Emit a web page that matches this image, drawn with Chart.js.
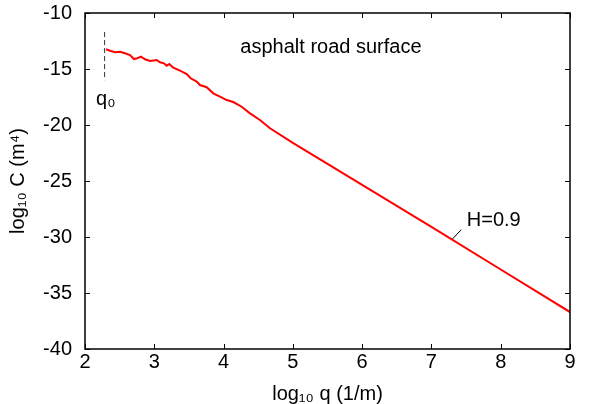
<!DOCTYPE html>
<html><head><meta charset="utf-8">
<script src="https://cdn.jsdelivr.net/npm/chart.js@4.4.0/dist/chart.umd.min.js"></script>
<style>html,body{margin:0;padding:0;background:#fff}#wrap{width:598px;height:404px}</style>
</head><body><div id="wrap"><canvas id="c" width="598" height="404"></canvas></div>
<script>
// Measured power spectrum (log10 q vs log10 C)
const logQ = [2.303,2.361,2.433,2.505,2.577,2.649,2.707,2.755,2.808,2.866,2.938,3.035,3.082,3.140,3.179,3.216,3.274,3.371,3.468,3.525,3.612,3.659,3.756,3.851,3.948,4.045,4.140,4.261,4.381,4.525,4.670,5.0,6.0,7.0,8.0,9.0];
const logC = [-13.24,-13.37,-13.51,-13.46,-13.60,-13.75,-14.11,-14.04,-13.90,-14.13,-14.29,-14.20,-14.40,-14.49,-14.71,-14.55,-14.88,-15.15,-15.45,-15.83,-16.13,-16.43,-16.63,-17.17,-17.47,-17.77,-17.95,-18.37,-18.96,-19.55,-20.29,-21.6,-25.35,-29.1,-32.9,-36.7];
// q0 marker (dashed vertical line)
const q0X = [2.283, 2.283];
const q0Y = [-11.7, -16.0];
// H=0.9 leader line
const hX = [7.30, 7.43];
const hY = [-30.2, -29.35];
// ticks
const xTicks = [2,3,4,5,6,7,8,9];
const yTicks = [-40,-35,-30,-25,-20,-15,-10];
// texts
const plotTitle = 'asphalt road surface';
const q0Label = 'q\u2080';
const hLabel = 'H=0.9';
const xTitle = 'log\u2081\u2080 q (1/m)';
const yTitle = 'log\u2081\u2080 C (m\u2074)';

const FONT = 'Liberation Sans, Arial, sans-serif';

const pts = (xs, ys) => xs.map((x, i) => ({x, y: ys[i]}));

const framePlugin = {
  id: 'frame',
  afterDatasetsDraw(chart) {
    const {ctx, chartArea: a, scales: {x, y}} = chart;
    ctx.save();
    ctx.strokeStyle = '#000';
    ctx.lineWidth = 1.5;
    ctx.strokeRect(a.left, a.top, a.right - a.left, a.bottom - a.top);
    ctx.lineWidth = 1;
    ctx.beginPath();
    const L = 5;
    xTicks.forEach(v => {
      const px = Math.round(x.getPixelForValue(v)) + 0.5;
      ctx.moveTo(px, a.bottom); ctx.lineTo(px, a.bottom - L);
      ctx.moveTo(px, a.top); ctx.lineTo(px, a.top + L);
    });
    yTicks.forEach(v => {
      const py = Math.round(y.getPixelForValue(v)) + 0.5;
      ctx.moveTo(a.left, py); ctx.lineTo(a.left + L, py);
      ctx.moveTo(a.right, py); ctx.lineTo(a.right - L, py);
    });
    ctx.stroke();
    ctx.restore();
  },
  afterDraw(chart) {
    const {ctx, scales: {x, y}} = chart;
    ctx.save();
    ctx.fillStyle = '#000';
    ctx.font = '20px ' + FONT;
    ctx.textBaseline = 'middle';
    ctx.textAlign = 'center';
    ctx.fillText(plotTitle, x.getPixelForValue(5.55), y.getPixelForValue(-13.05));
    ctx.fillText(q0Label, x.getPixelForValue(2.30), y.getPixelForValue(-17.7));
    ctx.textAlign = 'left';
    ctx.fillText(hLabel, x.getPixelForValue(7.51), y.getPixelForValue(-28.5));
    ctx.restore();
  }
};

new Chart(document.getElementById('c'), {
  type: 'scatter',
  data: {
    datasets: [
      {data: pts(logQ, logC), showLine: true, borderColor: '#ff0000', borderWidth: 2, pointRadius: 0, tension: 0},
      {data: pts(q0X, q0Y), showLine: true, borderColor: '#333', borderWidth: 1, borderDash: [5, 3], pointRadius: 0},
      {data: pts(hX, hY), showLine: true, borderColor: '#000', borderWidth: 1, pointRadius: 0}
    ]
  },
  options: {
    responsive: false,
    animation: false,
    devicePixelRatio: 1,
    layout: {padding: {top: 13, right: 28, left: 0, bottom: 0}},
    plugins: {legend: {display: false}, tooltip: {enabled: false}},
    scales: {
      x: {
        type: 'linear', min: 2, max: 9,
        afterBuildTicks: s => { s.ticks = xTicks.map(v => ({value: v})); },
        afterFit: s => { s.height = 55; s.paddingLeft = 0; s.paddingRight = 0; },
        grid: {display: false, drawTicks: false},
        border: {display: false},
        ticks: {color: '#000', font: {family: FONT, size: 20}, padding: 1, maxRotation: 0, autoSkip: false},
        title: {display: true, text: xTitle, color: '#000', font: {family: FONT, size: 20}, padding: {top: 0, bottom: -2}}
      },
      y: {
        type: 'linear', min: -40, max: -10,
        afterBuildTicks: s => { s.ticks = yTicks.map(v => ({value: v})); },
        afterFit: s => { s.width = 85; s.paddingTop = 0; s.paddingBottom = 0; },
        grid: {display: false, drawTicks: false},
        border: {display: false},
        ticks: {color: '#000', font: {family: FONT, size: 20}, padding: 13, autoSkip: false},
        title: {display: true, text: yTitle, color: '#000', font: {family: FONT, size: 20}, padding: {top: 6, bottom: 0}}
      }
    }
  },
  plugins: [framePlugin]
});
</script>
</body></html>
